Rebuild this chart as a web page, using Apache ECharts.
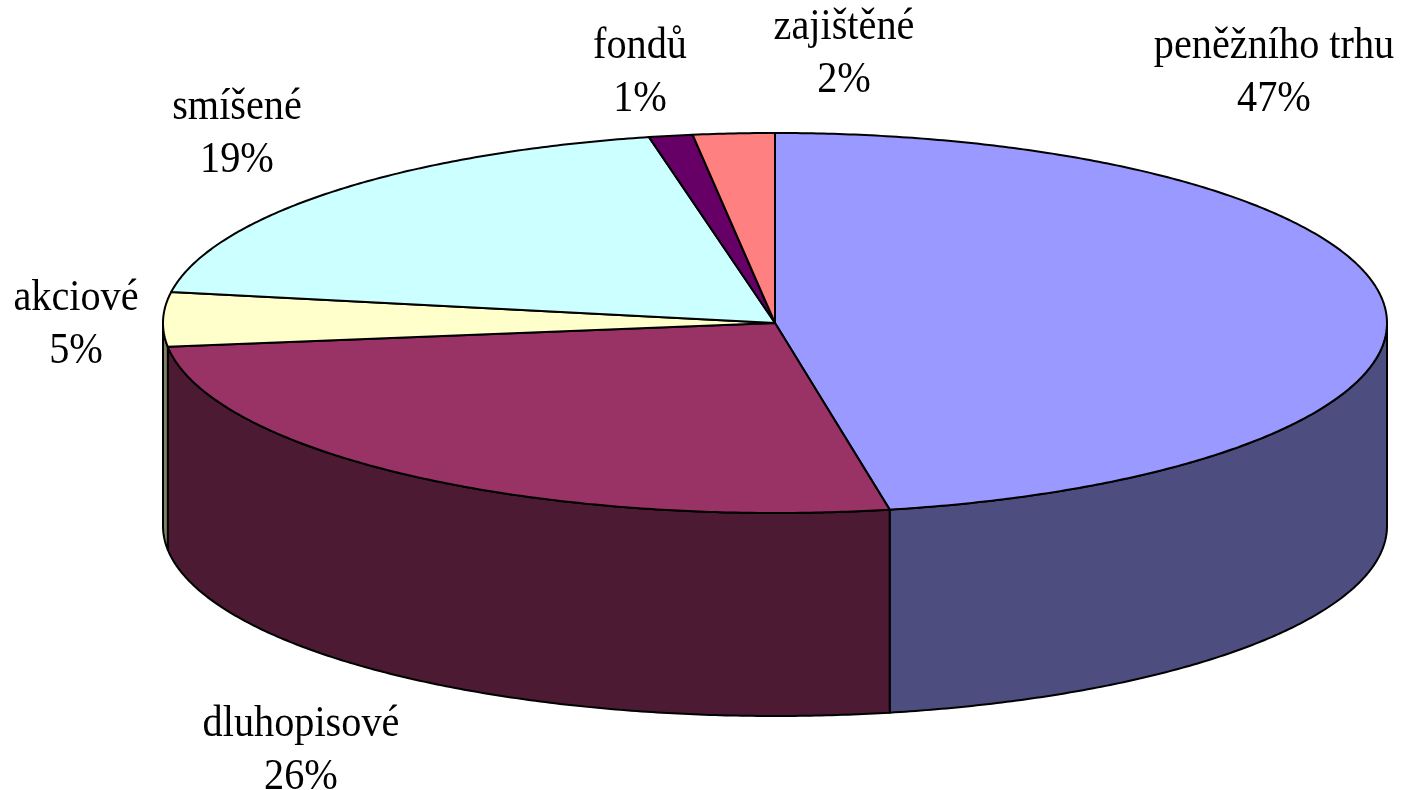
<!DOCTYPE html>
<html>
<head>
<meta charset="utf-8">
<style>
  html, body { margin: 0; padding: 0; background: #fff; }
  #chart { width: 1413px; height: 790px; }
</style>
<script src="https://cdn.jsdelivr.net/npm/echarts@6/dist/echarts.min.js"></script>
</head>
<body>
<div id="chart"></div>
<script>
// hodnoty (popisky jsou zaokrouhlené)
const categories = ["peněžního trhu", "dluhopisové", "akciové", "smíšené", "fondů", "zajištěné"];
const shares = [47, 26, 4.6, 19.1, 1.15, 2.15];

const topColors = ["#9999FF", "#993366", "#FFFFCC", "#CCFFFF", "#660066", "#FF8080"];
const sideColors = ["#4D4D80", "#4D1A33", "#808066", "#668080", "#330033", "#804040"];
// střed popisku a účaří prvního řádku
const labelAnchors = [[1274, 57], [301, 735], [76, 309], [237, 118], [640, 57], [844, 38]];

const cx = 775, cy = 323, rx = 612, ry = 190, depth = 203;
const lineGap = 53;
const ascent = 33;
// písmo v originále je vyšší a užší než Liberation Serif
const font = '44px "Liberation Serif", "Times New Roman", serif';
const squeeze = 0.915;

function rimPoint(deg, dy) {
  const a = deg * Math.PI / 180;
  return [cx + rx * Math.sin(a), cy - ry * Math.cos(a) + (dy || 0)];
}

function arcPoints(from, to, dy) {
  const pts = [];
  const n = Math.max(2, Math.ceil(Math.abs(to - from) * 2));
  for (let i = 0; i <= n; i++) {
    pts.push(rimPoint(from + (to - from) * i / n, dy));
  }
  return pts;
}

const total = shares.reduce((a, b) => a + b, 0);

function renderSlice(params, api) {
  const i = params.dataIndex;
  let before = 0;
  for (let k = 0; k < i; k++) before += shares[k];
  const start = before / total * 360;
  const end = (before + api.value(1)) / total * 360;
  const children = [];
  const edge = { stroke: "#000", lineWidth: 2, lineJoin: "round" };

  // bok je vidět jen na přední polovině (90° až 270°)
  const sideFrom = Math.max(start, 90), sideTo = Math.min(end, 270);
  if (sideFrom < sideTo) {
    const upper = arcPoints(sideFrom, sideTo, 0);
    const lower = arcPoints(sideTo, sideFrom, depth);
    children.push({
      type: "polygon",
      z2: 1,
      shape: { points: upper.concat(lower) },
      style: Object.assign({ fill: sideColors[i] }, edge)
    });
  }

  children.push({
    type: "polygon",
    z2: 2,
    shape: { points: [[cx, cy]].concat(arcPoints(start, end, 0)) },
    style: Object.assign({ fill: topColors[i] }, edge)
  });

  const pos = labelAnchors[i];
  [categories[i], Math.round(api.value(1)) + "%"].forEach((line, n) => {
    children.push({
      type: "text",
      z2: 3,
      x: pos[0],
      scaleX: squeeze,
      style: {
        x: 0, y: pos[1] + n * lineGap - ascent, text: line, font: font, fill: "#000",
        textAlign: "center", textVerticalAlign: "top"
      }
    });
  });

  return { type: "group", children: children };
}

const myChart = echarts.init(document.getElementById("chart"));
myChart.setOption({
  animation: false,
  backgroundColor: "#fff",
  tooltip: { show: false },
  series: [{
    type: "custom",
    coordinateSystem: "none",
    silent: true,
    renderItem: renderSlice,
    data: categories.map((name, i) => ({ name: name, value: [i, shares[i]] }))
  }]
});
</script>
</body>
</html>
